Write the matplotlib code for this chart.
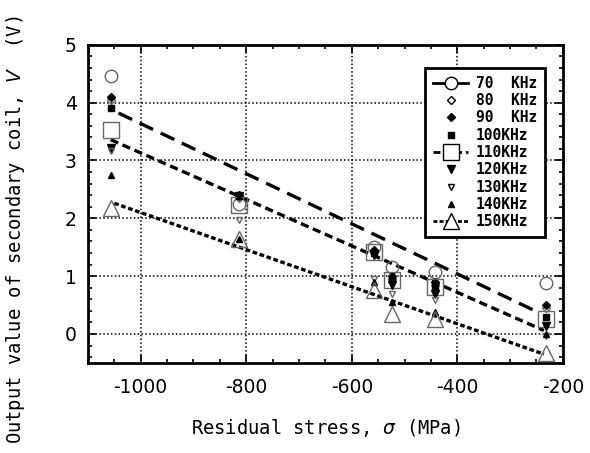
import matplotlib.pyplot as plt
from matplotlib.lines import Line2D
from matplotlib.ticker import MultipleLocator

# residual stress positions of the specimens (MPa)
stress = [-1057, -813, -557, -524, -442, -232]

# output value of secondary coil (V) for each frequency
v70 = [4.46, 2.25, 1.51, 1.16, 1.07, 0.88]
v80 = [4.05, 2.35, 1.42, 0.95, 0.85, 0.45]
v90 = [4.10, 2.40, 1.45, 1.00, 0.90, 0.50]
v100 = [3.91, 2.38, 1.40, 0.95, 0.82, 0.30]
v110 = [3.53, 2.23, 1.42, 0.93, 0.81, 0.26]
v120 = [3.22, 2.38, 1.37, 0.84, 0.69, 0.14]
v130 = [3.16, 1.97, 0.95, 0.69, 0.58, -0.03]
v140 = [2.75, 1.64, 0.90, 0.55, 0.38, 0.00]
v150 = [2.17, 1.64, 0.76, 0.35, 0.26, -0.33]

# regression lines (end points)
fit70_x = [-1042, -248]
fit70_y = [3.82, 0.38]
fit110_x = [-1057, -236]
fit110_y = [3.36, 0.06]
fit150_x = [-1050, -236]
fit150_y = [2.26, -0.35]

labels = ['70  KHz', '80  KHz', '90  KHz', '100KHz', '110KHz',
          '120KHz', '130KHz', '140KHz', '150KHz']
xticks = [-1000, -800, -600, -400, -200]

mono = 'DejaVu Sans Mono'

fig = plt.figure(figsize=(5.9, 4.53), dpi=100)
ax = fig.add_axes([0.149, 0.199, 0.805, 0.702])

# marker styles: (marker, size, face)
styles = [
    ('o', 9, 'none'),
    ('D', 4, 'none'),
    ('D', 4, 'k'),
    ('s', 5, 'k'),
    ('s', 12, 'none'),
    ('v', 6, 'k'),
    ('v', 5, 'none'),
    ('^', 5, 'k'),
    ('^', 12, 'none'),
]
series = [v70, v80, v90, v100, v110, v120, v130, v140, v150]

# lines
ax.plot(fit70_x, fit70_y, color='k', lw=2.4, dashes=(4.5, 2.5), zorder=3)
ax.plot(fit110_x, fit110_y, color='k', lw=2.4, dashes=(2.5, 1.4), zorder=3)
ax.plot(fit150_x, fit150_y, color='k', lw=2.4, dashes=(1.4, 0.8), zorder=3)

for vals, (m, ms, fc) in zip(series, styles):
    ax.plot(stress, vals, linestyle='none', marker=m, markersize=ms,
            markerfacecolor=fc, markeredgecolor='k' if fc != 'none' else '0.4',
            markeredgewidth=1.0, zorder=4)

ax.set_xlim(-1100, -200)
ax.set_ylim(-0.5, 5)
ax.xaxis.set_minor_locator(MultipleLocator(50))
ax.yaxis.set_major_locator(MultipleLocator(1))
ax.yaxis.set_minor_locator(MultipleLocator(0.2))
ax.tick_params(which='both', direction='in', top=True, right=True, width=1.2)
ax.tick_params(which='major', length=6, labelsize=13.5, pad=8)
ax.tick_params(axis='x', which='major', pad=11)
ax.tick_params(which='minor', length=3)
ax.set_xticks(xticks)
ax.set_xticklabels([str(t) for t in xticks])
ax.grid(True, which='major', color='k', linestyle=(0, (1, 1.5)), linewidth=1.1)
for s in ax.spines.values():
    s.set_linewidth(2)

ax.set_xlabel(r'Residual stress, $\sigma$ (MPa)', family=mono, fontsize=13.5, labelpad=14)
fig.text(0.027, 1 - 230 / 453, r'Output value of secondary coil, $V$  (V)',
         family=mono, fontsize=13.5, rotation=90, ha='center', va='center')

# legend proxies
handles = []
for i, (m, ms, fc) in enumerate(styles):
    if i == 0:
        ls, dashes = '-', None
    elif i == 4:
        ls, dashes = '--', (2.5, 1.4)
    elif i == 8:
        ls, dashes = '--', (1.4, 0.8)
    else:
        ls, dashes = 'none', None
    h = Line2D([], [], color='k', linestyle=ls, lw=2, marker=m, markersize=ms,
               markerfacecolor='white' if fc == 'none' else fc,
               markeredgecolor='k', markeredgewidth=1.0)
    if dashes:
        h.set_dashes(dashes)
    handles.append(h)

leg = ax.legend(handles, labels, loc='upper right', bbox_to_anchor=(0.962, 0.928),
                borderaxespad=0,
                prop={'family': mono, 'size': 10.5, 'weight': 'bold'},
                handlelength=2.4, handletextpad=0.5, labelspacing=0.16,
                borderpad=0.55, fancybox=False, framealpha=1, edgecolor='k')
leg.get_frame().set_linewidth(2)
leg.set_zorder(5)

fig.savefig('out.png', dpi=100)
